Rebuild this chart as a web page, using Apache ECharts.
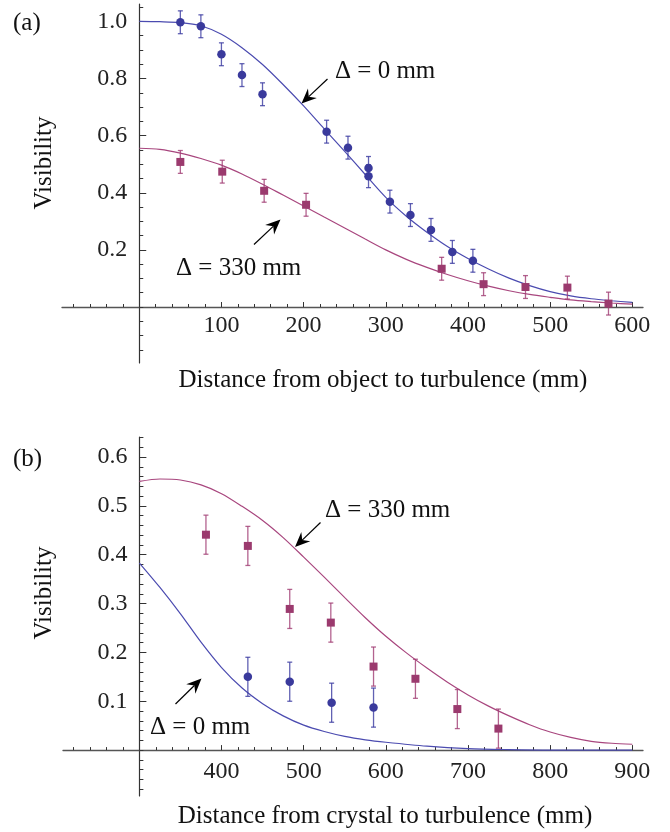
<!DOCTYPE html>
<html><head><meta charset="utf-8">
<script src="https://cdn.jsdelivr.net/npm/echarts@6/dist/echarts.min.js"></script>
<style>html,body{margin:0;padding:0;background:#fff}#c{width:670px;height:832px}</style>
</head><body><div id="c"></div>
<script>
// ---------- Panel (a): distance from object to turbulence ----------
const aBluePts = [[50,0.997],[75,0.983],[100,0.885],[125,0.812],[150,0.745],[228,0.614],[254,0.558],[279,0.487],[279,0.458],[305,0.369],[330,0.322],[355,0.270],[381,0.193],[406,0.162]];
const aBlueErr = [0.04,0.04,0.04,0.04,0.04,0.04,0.04,0.04,0.04,0.04,0.04,0.04,0.04,0.04];
const aMagPts = [[50,0.508],[101,0.474],[152,0.407],[203,0.358],[368,0.134],[419,0.080],[470,0.070],[521,0.068],[571,0.012]];
const aMagErr = [0.04,0.04,0.04,0.04,0.04,0.04,0.04,0.04,0.04];
const aBlueCurve = [[0,1.0],[25,0.999],[50,0.996],[75,0.985],[100,0.955],[125,0.908],[150,0.849],[175,0.779],[200,0.704],[225,0.624],[250,0.545],[275,0.464],[300,0.384],[325,0.318],[350,0.262],[375,0.212],[400,0.170],[425,0.133],[450,0.101],[475,0.075],[500,0.054],[525,0.039],[550,0.029],[575,0.022],[600,0.016]];
const aMagCurve = [[0,0.556],[25,0.552],[50,0.539],[75,0.520],[100,0.497],[125,0.466],[150,0.430],[175,0.392],[200,0.354],[225,0.315],[250,0.277],[275,0.238],[300,0.200],[325,0.167],[350,0.139],[375,0.114],[400,0.092],[425,0.073],[450,0.057],[475,0.044],[500,0.034],[525,0.025],[550,0.019],[575,0.014],[600,0.010]];
const aXLabels = [100,200,300,400,500,600];
const aYLabels = [0.2,0.4,0.6,0.8,1.0];

// ---------- Panel (b): distance from crystal to turbulence ----------
const bMagPts = [[381,0.441],[432,0.418],[483,0.289],[533,0.261],[585,0.171],[636,0.146],[687,0.084],[737,0.044]];
const bMagErr = [0.04,0.04,0.04,0.04,0.04,0.04,0.04,0.04];
const bBluePts = [[432,0.150],[483,0.140],[534,0.097],[585,0.087]];
const bBlueErr = [0.04,0.04,0.04,0.04];
const bMagCurve = [[300,0.550],[325,0.555],[350,0.553],[375,0.543],[400,0.525],[425,0.499],[450,0.470],[475,0.435],[500,0.395],[525,0.354],[550,0.312],[575,0.271],[600,0.233],[625,0.199],[650,0.168],[675,0.139],[700,0.113],[725,0.090],[750,0.070],[775,0.052],[800,0.037],[825,0.026],[850,0.018],[875,0.014],[900,0.012]];
const bBlueCurve = [[300,0.383],[325,0.333],[350,0.279],[375,0.221],[400,0.169],[425,0.127],[450,0.095],[475,0.070],[500,0.051],[525,0.038],[550,0.028],[575,0.021],[600,0.016],[650,0.008],[700,0.003],[750,0.001],[800,0.0],[850,0.0],[900,0.0]];
const bXLabels = [400,500,600,700,800,900];
const bYLabels = [0.1,0.2,0.3,0.4,0.5,0.6];

const FONT = '"Liberation Serif", "Times New Roman", serif';
const BLUE = '#3a3a9c', BLUE_L = '#4b4bb0', BLUE_E = 'rgba(58,58,160,0.8)';
const MAG = '#9b3a6e', MAG_L = '#a8467e', MAG_E = 'rgba(160,60,115,0.8)';
const AX = '#333';

// panel frames: data box, axis ranges and the origin where the axes cross
const PA = { left: 62, top: 4, width: 581, height: 359, xMin: -94, xMax: 613, yMin: -0.196, yMax: 1.061, ox: 0, oy: 0 };
const PB = { left: 63, top: 437, width: 580, height: 359, xMin: 207, xMax: 913, yMin: -0.094, yMax: 0.641, ox: 300, oy: 0 };

function steps(a, b, s) { const r = []; for (let v = a; v <= b + 1e-9; v += s) r.push(+v.toFixed(4)); return r; }
function withErr(pts, err) { return pts.map((p, i) => [p[0], p[1], err[i]]); }

function errRender(color) {
  return function (params, api) {
    const x = api.value(0), y = api.value(1), e = api.value(2);
    const lo = api.coord([x, y - e]), hi = api.coord([x, y + e]);
    const w = 2.5, st = { stroke: color, lineWidth: 1.3 };
    return { type: 'group', children: [
      { type: 'line', shape: { x1: lo[0], y1: lo[1], x2: hi[0], y2: hi[1] }, style: st },
      { type: 'line', shape: { x1: lo[0] - w, y1: lo[1], x2: lo[0] + w, y2: lo[1] }, style: st },
      { type: 'line', shape: { x1: hi[0] - w, y1: hi[1], x2: hi[0] + w, y2: hi[1] }, style: st }
    ]};
  };
}

// grids: data grid, x-axis grid (bottom edge on y = oy), y-axis grid (left edge on x = ox)
function grids(P) {
  const zx = P.left + (P.ox - P.xMin) / (P.xMax - P.xMin) * P.width;
  const zy = P.top + (P.yMax - P.oy) / (P.yMax - P.yMin) * P.height;
  return [
    { left: P.left, top: P.top, width: P.width, height: P.height },
    { left: P.left, top: P.top, width: P.width, height: zy - P.top },
    { left: zx, top: P.top, width: P.left + P.width - zx, height: P.height }
  ];
}
const hidden = (g, min, max) => ({ type: 'value', gridIndex: g, min, max, show: false, splitLine: { show: false } });

function xMain(g, P, labels, margin) {
  return { type: 'value', gridIndex: g, min: P.xMin, max: P.xMax, position: 'bottom',
    axisLine: { show: true, onZero: false, lineStyle: { color: '#555', width: 1.3 } },
    axisTick: { show: true, inside: true, length: 5, customValues: labels, lineStyle: { color: AX, width: 1 } },
    axisLabel: { show: true, customValues: labels, margin, fontSize: 24, fontFamily: FONT, color: '#222' },
    splitLine: { show: false } };
}
function xMinor(g, P, ticks) {
  return { type: 'value', gridIndex: g, min: P.xMin, max: P.xMax, position: 'bottom',
    axisLine: { show: false, onZero: false },
    axisTick: { show: true, inside: true, length: 3, customValues: ticks, lineStyle: { color: AX, width: 1 } },
    axisLabel: { show: false }, splitLine: { show: false } };
}
function yMain(g, P, labels) {
  return { type: 'value', gridIndex: g, min: P.yMin, max: P.yMax, position: 'left',
    axisLine: { show: true, onZero: false, lineStyle: { color: AX, width: 1.2 } },
    axisTick: { show: true, inside: true, length: 7, customValues: labels, lineStyle: { color: AX, width: 1 } },
    axisLabel: { show: true, customValues: labels, margin: 12, fontSize: 24, fontFamily: FONT, color: '#222',
      formatter: v => Number(v).toFixed(1) },
    splitLine: { show: false } };
}
function yMinor(g, P, ticks) {
  return { type: 'value', gridIndex: g, min: P.yMin, max: P.yMax, position: 'left',
    axisLine: { show: false, onZero: false },
    axisTick: { show: true, inside: true, length: 4, customValues: ticks, lineStyle: { color: AX, width: 1 } },
    axisLabel: { show: false }, splitLine: { show: false } };
}

function arrow(x1, y1, x2, y2) {
  const dx = x2 - x1, dy = y2 - y1, L = Math.hypot(dx, dy), ux = dx / L, uy = dy / L, px = -uy, py = ux;
  const hl = 15, hw = 6.5, notch = 10;
  const bx = x2 - ux * hl, by = y2 - uy * hl, nx = x2 - ux * notch, ny = y2 - uy * notch;
  return [
    { type: 'line', shape: { x1, y1, x2: nx, y2: ny }, style: { stroke: '#000', lineWidth: 1.2 }, z: 100 },
    { type: 'polygon', shape: { points: [[x2, y2], [bx + px * hw, by + py * hw], [nx, ny], [bx - px * hw, by - py * hw]] }, style: { fill: '#000' }, z: 100 }
  ];
}
function txt(x, y, s, opts) {
  return Object.assign({ type: 'text', x, y, z: 100,
    style: Object.assign({ text: s, font: '25px ' + FONT, fill: '#111', textAlign: 'left', textVerticalAlign: 'middle' }, (opts && opts.style) || {}) },
    (opts && opts.el) || {});
}

const aXMinor = steps(-80, 600, 20), aYMinor = steps(-0.15, 1.05, 0.05);
const bXMinor = steps(220, 900, 20), bYMinor = steps(-0.08, 0.64, 0.02);

function lineS(xi, yi, data, color) {
  return { type: 'line', xAxisIndex: xi, yAxisIndex: yi, data, smooth: 0.3, showSymbol: false, lineStyle: { color, width: 1.2 }, z: 1 };
}
function errS(xi, yi, pts, err, color) {
  return { type: 'custom', xAxisIndex: xi, yAxisIndex: yi, data: withErr(pts, err), encode: { x: 0, y: [1] }, renderItem: errRender(color), z: 2 };
}
function ptS(xi, yi, pts, symbol, size, color) {
  return { type: 'scatter', xAxisIndex: xi, yAxisIndex: yi, data: pts, symbol, symbolSize: size, itemStyle: { color, opacity: 1 }, z: 3 };
}

// axis index layout: per panel [data, x-axis grid, y-axis grid]
const option = {
  animation: false,
  backgroundColor: '#fff',
  grid: grids(PA).concat(grids(PB)),
  xAxis: [
    hidden(0, PA.xMin, PA.xMax),     // 0
    xMain(1, PA, aXLabels, 6.5),     // 1
    xMinor(1, PA, aXMinor),          // 2
    hidden(2, 0, 1),                 // 3
    hidden(3, PB.xMin, PB.xMax),     // 4
    xMain(4, PB, bXLabels, 9.5),     // 5
    xMinor(4, PB, bXMinor),          // 6
    hidden(5, 0, 1)                  // 7
  ],
  yAxis: [
    hidden(0, PA.yMin, PA.yMax),     // 0
    hidden(1, 0, 1),                 // 1
    yMain(2, PA, aYLabels),          // 2
    yMinor(2, PA, aYMinor),          // 3
    hidden(3, PB.yMin, PB.yMax),     // 4
    hidden(4, 0, 1),                 // 5
    yMain(5, PB, bYLabels),          // 6
    yMinor(5, PB, bYMinor)           // 7
  ],
  series: [
    lineS(0, 0, aBlueCurve, BLUE_L),
    lineS(0, 0, aMagCurve, MAG_L),
    errS(0, 0, aBluePts, aBlueErr, BLUE_E),
    errS(0, 0, aMagPts, aMagErr, MAG_E),
    ptS(0, 0, aBluePts, 'circle', 8.5, BLUE),
    ptS(0, 0, aMagPts, 'rect', 8, MAG),

    lineS(4, 4, bMagCurve, MAG_L),
    lineS(4, 4, bBlueCurve, BLUE_L),
    errS(4, 4, bMagPts, bMagErr, MAG_E),
    errS(4, 4, bBluePts, bBlueErr, BLUE_E),
    ptS(4, 4, bMagPts, 'rect', 8, MAG),
    ptS(4, 4, bBluePts, 'circle', 8.5, BLUE)
  ],
  graphic: [].concat(
    [txt(13, 23, '(a)'), txt(13, 459, '(b)')],
    [txt(44, 163, 'Visibility', { style: { textAlign: 'center' }, el: { rotation: Math.PI / 2 } }),
     txt(44, 593, 'Visibility', { style: { textAlign: 'center' }, el: { rotation: Math.PI / 2 } })],
    [txt(383, 380, 'Distance from object to turbulence (mm)', { style: { textAlign: 'center' } }),
     txt(385, 816, 'Distance from crystal to turbulence (mm)', { style: { textAlign: 'center' } })],
    [txt(335, 71, 'Δ = 0 mm'), txt(176, 268, 'Δ = 330 mm'), txt(325, 510, 'Δ = 330 mm'), txt(150, 727, 'Δ = 0 mm')],
    arrow(327.5, 79, 301.5, 103.5),
    arrow(254, 244.5, 280.5, 219.5),
    arrow(320.5, 522.5, 295, 547),
    arrow(175.5, 704, 201.5, 678.5)
  )
};
const chart = echarts.init(document.getElementById('c'), null, { renderer: 'canvas' });
chart.setOption(option);
</script></body></html>
